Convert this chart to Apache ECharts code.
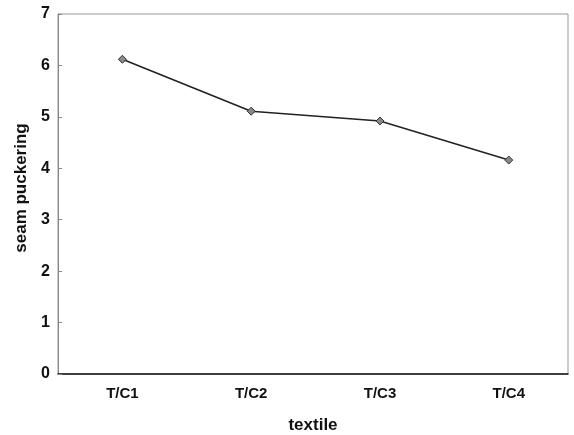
<!DOCTYPE html>
<html><head><meta charset="utf-8">
<script src="https://cdn.jsdelivr.net/npm/echarts@6/dist/echarts.min.js"></script>
<style>html,body{margin:0;padding:0;background:#fff}#c{width:574px;height:435px}</style>
</head><body><div id="c"></div>
<script>
const categories = ['T/C1', 'T/C2', 'T/C3', 'T/C4'];
const seamPuckering = [6.12, 5.11, 4.92, 4.16];
const yTicks = [0, 1, 2, 3, 4, 5, 6, 7];

const positions = categories.map((c, i) => i + 1);
const points = seamPuckering.map((v, i) => [positions[i], v]);

const chart = echarts.init(document.getElementById('c'));
chart.setOption({
  animation: false,
  backgroundColor: '#fff',
  grid: { left: 58, right: 6, top: 14, bottom: 61, outerBoundsMode: 'none', containLabel: false,
    show: true, borderColor: '#999', borderWidth: 1, backgroundColor: 'transparent' },
  xAxis: {
    type: 'value', min: 0.5, max: 4.46,
    name: 'textile', nameLocation: 'middle', nameGap: 43,
    nameTextStyle: { fontFamily: 'Liberation Sans', fontSize: 17, fontWeight: 'bold', color: '#111' },
    axisLine: { show: true, onZero: false, lineStyle: { color: '#111', width: 1.5 } },
    axisTick: { show: false },
    axisLabel: { fontFamily: 'Liberation Sans', fontSize: 15, fontWeight: 'bold', color: '#111', margin: 12,
      customValues: positions,
      formatter: v => categories[Math.round(v) - 1] || '' },
    splitLine: { show: false }
  },
  yAxis: {
    type: 'value', min: 0, max: 7, interval: 1,
    name: 'seam puckering', nameLocation: 'middle', nameGap: 24,
    nameTextStyle: { fontFamily: 'Liberation Sans', fontSize: 17, fontWeight: 'bold', color: '#111', padding: [0, 0, 0, 12] },
    axisLine: { show: true, lineStyle: { color: '#888', width: 1 } },
    axisTick: { show: true, inside: true, length: 4, lineStyle: { color: '#888' } },
    axisLabel: { fontFamily: 'Liberation Sans', fontSize: 16, fontWeight: 'bold', color: '#111', margin: 8,
      formatter: v => yTicks.includes(v) ? String(v) : '' },
    splitLine: { show: false }
  },
  series: [{
    type: 'line', data: points,
    symbol: 'diamond', symbolSize: 8,
    lineStyle: { color: '#222', width: 1.6 },
    itemStyle: { color: '#888', borderColor: '#333', borderWidth: 1 }
  }]
});
</script></body></html>
